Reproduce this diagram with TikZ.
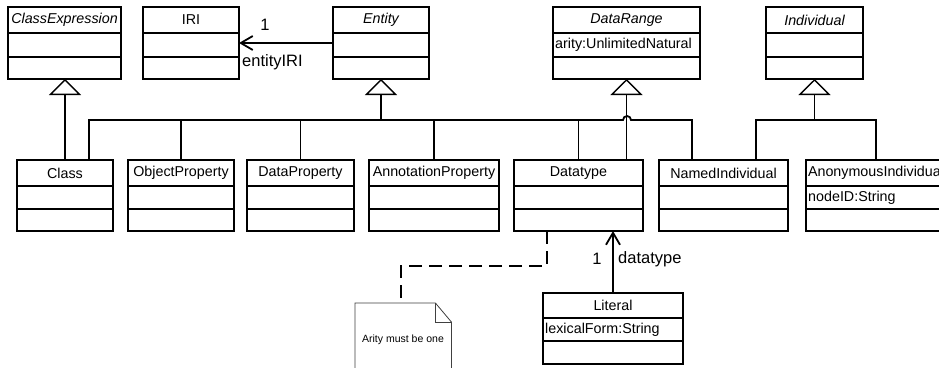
\documentclass[tikz,border=0pt]{standalone}
\usepackage{fontspec}
\setmainfont{Liberation Sans}
\usetikzlibrary{arrows.meta}

\tikzset{
  classbox/.style={draw, line width=1.8pt, inner sep=0pt, outer sep=0pt},
  titletext/.style={font=\fontsize{14.3}{16}\selectfont, inner sep=0pt},
  attrtext/.style={font=\fontsize{14.3}{16}\selectfont, anchor=west, inner sep=2pt},
  labeltext/.style={font=\fontsize{16.5}{18}\selectfont, inner sep=0pt},
  umlline/.style={line width=1.8pt},
  inherit/.style={umlline, -{Triangle[open, length=16pt, width=32pt, line width=1.4pt]}},
  assoc/.style={umlline, -{Straight Barb[length=12pt, width=14pt]}},
  notelink/.style={umlline, dash pattern=on 13pt off 7pt},
  notebox/.style={draw=black!75, line width=0.8pt}
}

% classe: nome, sinistra, destra, alto, separatore 1, separatore 2, basso, titolo, attributo
\newcommand{\umlclass}[9]{%
  \node[classbox, anchor=north west, minimum width={(#3-#2)*1pt},
    minimum height={(#7-#4)*1pt}] (#1) at (#2,#4) {};
  \draw[umlline] (#2,#5) -- (#3,#5) (#2,#6) -- (#3,#6);
  \node[titletext] (#1-t) at ({(#2+#3)/2},{(#4+#5)/2}) {#8};
  \node[attrtext] (#1-a) at (#2,{(#5+#6)/2}) {#9};
}

\begin{document}
\begin{tikzpicture}[x=1pt, y=-1pt]
   \useasboundingbox (0,0) rectangle (939,367);
   \fill[white] (0,0) rectangle (939,367);
   \clip (0,0) rectangle (939,367);
% classi in alto
   \umlclass{CE}{8}{121}{7}{33}{57}{79}{\itshape ClassExpression}{}
   \umlclass{IRI}{143}{239}{7}{33}{57}{79}{IRI}{}
   \umlclass{Ent}{333}{429}{7}{33}{57}{79}{\itshape Entity}{}
   \umlclass{DR}{553}{700}{7}{33}{57}{79}{\itshape DataRange}{arity:UnlimitedNatural}
   \umlclass{Ind}{766}{863}{7}{33}{57}{79}{\itshape Individual}{}
% classi in basso
   \umlclass{Cls}{17}{113}{160}{186}{209}{231}{Class}{}
   \umlclass{OP}{128}{234}{160}{186}{209}{231}{ObjectProperty}{}
   \umlclass{DP}{247}{354}{160}{186}{209}{231}{DataProperty}{}
   \umlclass{AP}{369}{499}{160}{186}{209}{231}{AnnotationProperty}{}
   \umlclass{DT}{514}{643}{160}{186}{209}{231}{Datatype}{}
   \umlclass{NI}{659}{788}{160}{186}{209}{231}{NamedIndividual}{}
   \umlclass{AI}{806}{946}{160}{186}{209}{231}{AnonymousIndividual}{nodeID:String}
   \umlclass{Lit}{543}{683}{293}{318}{341}{364}{Literal}{lexicalForm:String}
% generalizzazioni
   \draw[inherit] (Cls.north) -- (Cls.north |- CE.south);
   \coordinate (entbus) at (Ent.south |- 0,120);
   \draw[inherit] (entbus) -- (Ent.south);
   \draw[umlline] (Cls.north -| 89,0) |- (623,120)
   arc[start angle=180, end angle=0, radius=4pt] -| (NI.north -| 692,0);
   \foreach \c in {OP,DP,AP,DT} \draw[umlline] (\c.north) -- (\c.north |- entbus);
   \draw[inherit] (DT.north -| DR.south) -- (DR.south);
   \coordinate (indbus) at (Ind.south |- 0,120);
   \draw[inherit] (indbus) -- (Ind.south);
   \draw[umlline] (NI.north -| 756,0) |- (indbus) -| (AI.north);
% associazioni
   \draw[assoc] (Ent.west) -- (IRI.east);
   \node[labeltext] (oneiri) at (265,25) {1};
   \node[labeltext, anchor=west] (roleiri) at (242,62) {entityIRI};
   \draw[assoc] (Lit.north) -- (Lit.north |- DT.south);
   \node[labeltext] (onedt) at (597,259) {1};
   \node[labeltext, anchor=west] (roledt) at (618,259) {datatype};
% nota
   \node[minimum width=96pt, minimum height=80pt, anchor=north west,
     inner sep=0pt] (note) at (355,303) {};
   \draw[notebox] (note.north west) -- ([xshift=-16pt]note.north east)
   -- ([yshift=-19pt]note.north east) -- (note.south east)
   -- (note.south west) -- cycle;
   \draw[notebox] ([xshift=-16pt]note.north east) |- ([yshift=-19pt]note.north east);
   \node[font=\fontsize{10.5}{12}\selectfont] (notetext) at (403,340) {Arity must be one};
   \coordinate (bend) at (401,266);
   \draw[notelink] (DT.south -| 547,0) |- (bend) -- (note.north -| bend);
\end{tikzpicture}
\end{document}
